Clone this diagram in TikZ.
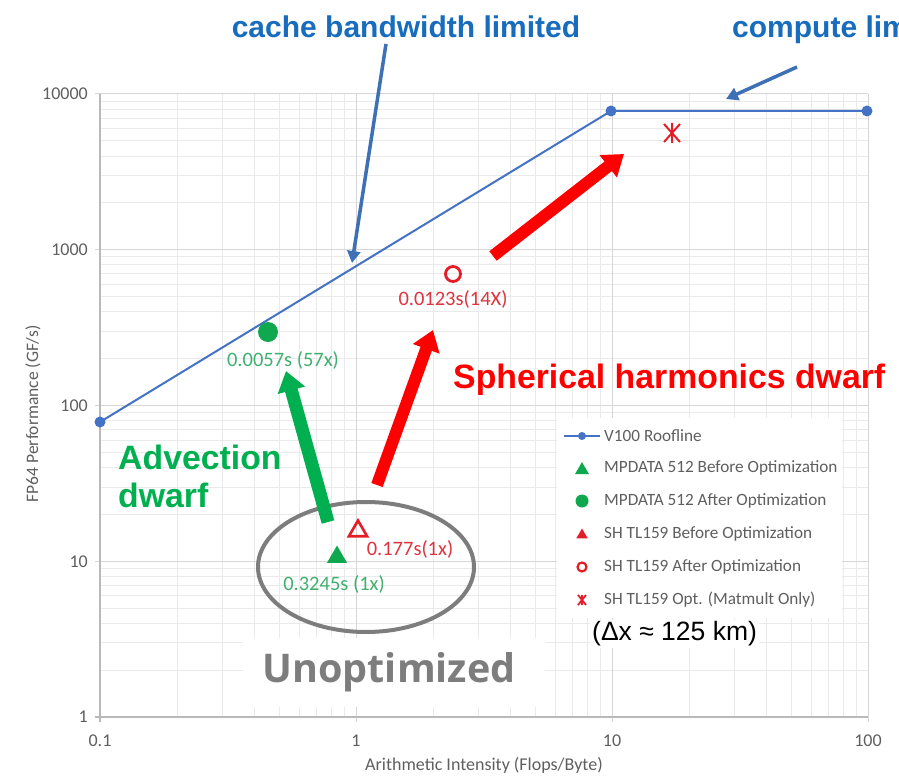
\documentclass[tikz,border=0pt]{standalone}
\usepackage{fontspec}
\setmainfont{Carlito}
\newfontfamily\arialf{Liberation Sans}
\newfontfamily\opensf{Open Sans}
\usetikzlibrary{arrows.meta,shapes.geometric,calc}
\definecolor{rfblue}{RGB}{68,114,196}
\definecolor{txtblue}{RGB}{24,108,190}
\definecolor{arrblue}{RGB}{62,112,182}
\definecolor{xlgreen}{RGB}{0,176,80}
\definecolor{ptgreen}{RGB}{16,168,78}
\definecolor{lblgreen}{RGB}{64,176,112}
\definecolor{xlred}{RGB}{255,0,0}
\definecolor{ptred}{RGB}{228,30,40}
\definecolor{lblred}{RGB}{222,52,62}
\definecolor{minorc}{RGB}{234,234,234}
\definecolor{majorc}{RGB}{214,214,214}
\definecolor{axisc}{RGB}{185,185,185}
\definecolor{tickc}{RGB}{95,95,95}
\definecolor{ellc}{RGB}{125,125,125}
\begin{document}
\begin{tikzpicture}[x=1pt,y=-1pt,
  minorgrid/.style={draw=minorc,line width=0.8pt},
  majorgrid/.style={draw=majorc,line width=1pt},
  ticklbl/.style={text=tickc,font=\fontsize{18}{20}\selectfont,inner sep=0pt},
  axtitle/.style={text=tickc,font=\fontsize{18}{20}\selectfont,inner sep=0pt},
  rfline/.style={draw=rfblue,line width=2pt},
  rfdot/.style={circle,fill=rfblue,inner sep=0pt,minimum size=11pt},
  gtri/.style={regular polygon,regular polygon sides=3,fill=ptgreen,inner sep=0pt,minimum size=23pt},
  gdot/.style={circle,fill=ptgreen,inner sep=0pt,minimum size=20pt},
  rtri/.style={regular polygon,regular polygon sides=3,draw=ptred,line width=2.6pt,inner sep=0pt,minimum size=21pt},
  rring/.style={circle,draw=ptred,line width=2.8pt,inner sep=0pt,minimum size=15pt},
  glbl/.style={text=lblgreen,font=\fontsize{20.5}{22}\selectfont,inner sep=0pt},
  rlbl/.style={text=lblred,font=\fontsize{20.5}{22}\selectfont,inner sep=0pt},
  leglbl/.style={text=tickc,font=\fontsize{17.2}{19}\selectfont,inner sep=0pt,anchor=west},
  bigarrow/.style={line width=13pt,-{Triangle[length=20pt,width=27pt]}},
  bluearrow/.style={draw=arrblue,line width=3.5pt,-{Triangle[length=12pt,width=13pt]}},
  callout/.style={font=\arialf\bfseries\fontsize{30}{32}\selectfont,text=txtblue,inner sep=0pt},
  dwarf/.style={font=\arialf\bfseries\fontsize{33.8}{38}\selectfont,inner sep=0pt}
]
\useasboundingbox (0,0) rectangle (899,778);
\fill[white] (0,0) rectangle (899,778);
% minor grid
\foreach \d in {0,1,2}{\foreach \k in {2,...,9}{
  \pgfmathsetmacro\xx{100+256*(\d+log10(\k))}
  \draw[minorgrid] (\xx,94) -- (\xx,717);}}
\foreach \d in {0,1,2,3}{\foreach \k in {2,...,9}{
  \pgfmathsetmacro\yy{717-155.75*(\d+log10(\k))}
  \draw[minorgrid] (100,\yy) -- (868,\yy);}}
% major grid
\foreach \xx in {356,612,868}{\draw[majorgrid] (\xx,94) -- (\xx,722);}
\foreach \yy in {94,249.75,405.5,561.25}{\draw[majorgrid] (95,\yy) -- (868,\yy);}
% axes
\draw[draw=axisc,line width=1.2pt] (100,94) -- (100,717) -- (868,717);
\draw[draw=axisc,line width=1.2pt] (95,717) -- (100,717) -- (100,722);
% tick labels
\node[ticklbl,anchor=east] (y4) at (88,94) {10000};
\node[ticklbl,anchor=east] (y3) at (88,249.75) {1000};
\node[ticklbl,anchor=east] (y2) at (88,405.5) {100};
\node[ticklbl,anchor=east] (y1) at (88,561.25) {10};
\node[ticklbl,anchor=east] (y0) at (88,717) {1};
\node[ticklbl] (x0) at (100,741) {0.1};
\node[ticklbl] (x1) at (356,741) {1};
\node[ticklbl] (x2) at (612,741) {10};
\node[ticklbl] (x3) at (868,741) {100};
\node[axtitle] (xt) at (484,765) {Arithmetic Intensity (Flops/Byte)};
\node[axtitle,rotate=90,font=\fontsize{17.5}{19}\selectfont] (yt) at (33,414) {FP64 Performance (GF/s)};
% roofline
\node[rfdot] (r1) at (100,422) {};
\node[rfdot] (r2) at (611,111) {};
\node[rfdot] (r3) at (867,111) {};
\draw[rfline] (r1.center) -- (r2.center) -- (r3.center);
% data points
\node[gtri] (gb) at (337,557) {};
\node[gdot] (ga) at (268,332) {};
\node[rtri] (rb) at (358,531) {};
\node[rring] (ra) at (453,274) {};
\coordinate (rx) at (672,133);
\draw[ptred,line width=2pt] ($(rx)+(-8,-9)$) -- ($(rx)+(8,9)$) ($(rx)+(-8,9)$) -- ($(rx)+(8,-9)$) ($(rx)+(0,-10)$) -- ($(rx)+(0,10)$);
% data labels
\node[glbl] (lgb) at (334,584) {0.3245s (1x)};
\node[rlbl] (lrb) at (410,549) {0.177s(1x)};
\node[glbl] (lga) at (283,360) {0.0057s (57x)};
\node[rlbl] (lra) at (453,299) {0.0123s(14X)};
% ellipse
\draw[ellc,line width=4pt] (366,567) ellipse [x radius=108, y radius=65];
% unoptimized
\fill[white] (243,638) rectangle (545,707);
\node[font=\opensf\bfseries\fontsize{39.5}{42}\selectfont,text=ellc,inner sep=0pt] (unopt) at (389,672) {Unoptimized};
% legend
\fill[white] (557,418) rectangle (842,618);
\coordinate (lg0) at (582,436);
\draw[rfline] ($(lg0)+(-18,0)$) -- ($(lg0)+(18,0)$);
\node[rfdot,minimum size=8pt] (lm0) at (lg0) {};
\node[leglbl] (lt0) at (604,436) {V100 Roofline};
\node[gtri,minimum size=16pt] (lm1) at (582,470) {};
\node[leglbl] (lt1) at (604,468) {MPDATA 512 Before Optimization};
\node[gdot,minimum size=13pt] (lm2) at (582,501) {};
\node[leglbl] (lt2) at (604,501) {MPDATA 512 After Optimization};
\node[regular polygon,regular polygon sides=3,fill=ptred,inner sep=0pt,minimum size=13pt] (lm3) at (582,535) {};
\node[leglbl] (lt3) at (604,534) {SH TL159 Before Optimization};
\node[circle,draw=ptred,line width=2.2pt,inner sep=0pt,minimum size=9pt] (lm4) at (582,567) {};
\node[leglbl] (lt4) at (604,567) {SH TL159 After Optimization};
\coordinate (lm5) at (582,600);
\draw[ptred,line width=1.8pt] ($(lm5)+(-4,-5)$) -- ($(lm5)+(4,5)$) ($(lm5)+(-4,5)$) -- ($(lm5)+(4,-5)$) ($(lm5)+(0,-5)$) -- ($(lm5)+(0,5)$);
\node[leglbl] (lt5) at (604,600) {SH TL159 Opt. (Matmult Only)};
\node[fill=white,font=\arialf\fontsize{26.5}{28}\selectfont,inner sep=2pt,anchor=west] (dx) at (590,634) {(Δx ≈ 125 km)};
% big arrows
\coordinate (ga0) at (328,522); \coordinate (ga1) at (286,371);
\draw[bigarrow,draw=xlgreen,fill=xlgreen] (ga0) -- (ga1);
\coordinate (ra0) at (377,485); \coordinate (ra1) at (433,330);
\draw[bigarrow,draw=xlred,fill=xlred,line width=12pt] (ra0) -- (ra1);
\coordinate (rb0) at (493,256); \coordinate (rb1) at (624,154);
\draw[bigarrow,draw=xlred,fill=xlred,line width=12pt] (rb0) -- (rb1);
% callouts
\node[callout] (cbl) at (406,27) {cache bandwidth limited};
\node[callout,anchor=west] (cpl) at (732,30) {compute limited};
\coordinate (cb0) at (386,44); \coordinate (cb1) at (352,263);
\draw[bluearrow,fill=arrblue] (cb0) -- (cb1);
\coordinate (cp0) at (797,67); \coordinate (cp1) at (726,99);
\draw[bluearrow,fill=arrblue] (cp0) -- (cp1);
% dwarf texts
\node[dwarf,text=xlred,anchor=west] (shd) at (453,380) {Spherical harmonics dwarf};
\node[dwarf,text=xlgreen,anchor=north west,align=left] (adv) at (118,445) {Advection\\dwarf};
\end{tikzpicture}
\end{document}
